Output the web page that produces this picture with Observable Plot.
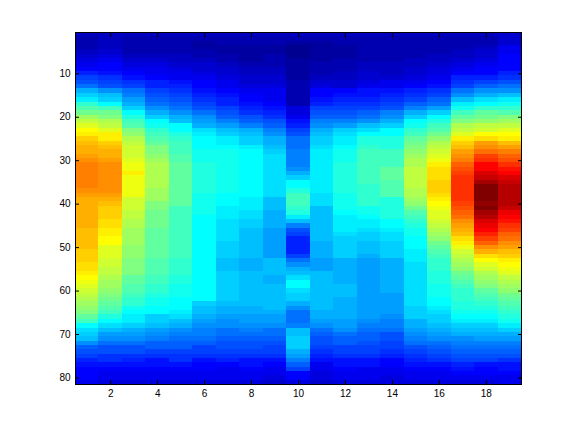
<!DOCTYPE html>
<html>
<head>
<meta charset="utf-8">
<style>html,body{margin:0;padding:0;background:#fff}svg{display:block}</style>
<script src="https://cdn.jsdelivr.net/npm/d3@7"></script>
<script src="https://cdn.jsdelivr.net/npm/@observablehq/plot@0.6"></script>
</head>
<body>
<script>
const xTicks = [2,4,6,8,10,12,14,16,18];
const yTicks = [10,20,30,40,50,60,70,80];
const col1 = [4,3,3,3,4,5,6,7,8,10, 12,13,15,19,21,23,27,29,31,34, 36,38,40,41,43,44,45,45,46,47, 48,48,48,48,48,48,47,46,45,45, 45,45,45,45,45,44,44,44,44,44, 43,43,43,42,42,41,40,39,38,37, 36,35,34,33,32,30,28,24,22,21, 20,17,14,13,12,10,9,8,8,8,7];
const col2 = [4,4,4,4,5,6,7,8,8,9, 11,12,13,17,20,21,24,28,31,32, 35,36,38,41,41,43,44,45,45,46, 47,47,47,47,47,47,47,46,45,44, 43,43,43,42,42,41,41,40,40,38, 38,38,37,37,36,36,35,34,34,33, 32,31,30,29,28,26,24,22,20,18, 17,15,13,13,11,11,9,8,7,7,6];
const col3 = [4,3,3,3,3,4,5,6,7,8, 9,11,12,15,16,18,19,21,24,26, 28,29,32,33,35,36,37,37,37,38, 39,39,41,39,39,39,39,39,37,37, 37,36,36,35,35,34,34,34,34,33, 33,33,32,32,32,32,30,30,29,29, 28,27,27,25,24,23,23,21,19,18, 17,15,13,13,11,10,9,8,7,7,6];
const col4 = [4,3,3,3,3,4,5,6,7,7, 8,10,10,12,13,14,15,17,19,21, 24,25,27,28,29,30,32,32,33,34, 35,35,35,35,35,35,34,34,34,32, 32,31,31,31,31,30,30,30,30,30, 30,30,29,29,29,29,28,28,27,27, 26,25,25,24,24,21,21,20,18,17, 16,14,14,12,11,9,9,8,7,7,6];
const col5 = [4,3,3,3,3,4,4,5,6,7, 7,9,10,11,12,13,14,15,17,19, 20,24,24,26,27,28,28,28,29,29, 30,30,30,30,30,30,30,30,30,30, 28,28,28,28,28,28,28,28,28,28, 28,28,27,27,27,27,26,26,25,25, 25,24,24,24,23,22,20,19,17,16, 15,14,14,12,11,11,9,8,7,7,6];
const col6 = [4,3,2,2,3,3,4,5,5,6, 7,8,8,9,10,11,12,13,15,17, 18,19,22,23,24,24,24,25,25,25, 26,26,26,26,26,26,26,25,25,25, 25,25,24,24,24,24,24,24,24,24, 24,24,24,24,24,24,24,24,24,24, 24,24,21,20,20,19,18,17,16,16, 15,14,12,12,11,9,8,8,7,7,6];
const col7 = [4,3,3,2,2,3,3,4,5,5, 6,7,7,8,9,10,10,12,13,14, 16,18,20,21,23,23,24,25,25,25, 25,25,25,25,25,25,25,24,24,24, 23,23,23,22,22,22,22,22,21,21, 21,21,20,20,20,21,21,21,21,21, 21,21,20,19,19,18,17,17,15,15, 14,13,13,12,11,10,8,7,7,7,6];
const col8 = [4,3,3,2,2,2,2,3,4,4, 5,5,6,7,8,8,9,10,11,13, 14,16,19,20,21,21,23,24,24,24, 24,24,24,24,24,24,24,24,23,23, 23,22,22,21,21,20,20,20,20,20, 20,20,19,19,19,20,20,20,20,20, 20,20,20,19,19,18,18,17,16,15, 14,13,13,12,11,9,9,8,7,7,6];
const col9 = [4,3,3,2,2,3,3,3,4,4, 5,5,6,7,7,7,8,9,10,11, 13,14,16,17,19,19,20,21,22,22, 22,22,22,22,22,22,22,22,20,20, 20,19,19,19,19,18,18,18,18,18, 18,18,20,20,20,20,19,19,20,20, 20,20,20,20,19,18,18,17,15,15, 14,13,12,12,11,9,8,7,7,6,5];
const col10 = [4,3,2,1,1,1,2,2,2,2, 2,3,3,3,3,3,3,6,6,7, 9,10,12,13,15,15,15,16,16,16, 16,17,19,21,24,24,26,28,28,28, 27,26,23,20,16,13,12,10,10,10, 10,12,15,17,19,20,22,24,24,22, 21,21,19,17,15,15,15,16,20,20, 21,21,21,19,18,16,14,12,8,8,6];
const col11 = [4,3,2,2,2,2,2,3,3,3, 4,5,6,8,8,9,10,12,13,14, 16,17,19,20,21,21,22,23,23,23, 23,23,23,23,23,23,23,22,22,22, 20,20,20,20,20,20,20,20,19,19, 19,19,18,18,18,20,20,20,20,20, 20,20,20,20,19,19,18,17,15,14, 13,13,12,11,10,9,7,7,6,6,5];
const col12 = [4,3,3,2,2,2,3,3,3,4, 4,5,5,8,9,10,11,12,13,14, 16,18,21,22,23,23,24,25,25,25, 26,26,26,26,26,26,26,25,25,25, 25,24,23,23,23,23,22,21,21,21, 21,21,19,19,19,19,19,19,20,20, 20,19,19,19,19,19,18,18,17,15, 14,14,12,12,11,9,9,8,7,7,6];
const col13 = [4,3,3,3,3,3,3,4,4,5, 5,6,7,9,9,10,11,12,14,15, 17,20,22,24,26,26,27,28,28,28, 28,28,28,28,28,27,27,27,27,27, 25,25,24,23,23,22,21,21,20,20, 20,19,18,18,18,18,18,18,18,18, 18,18,18,18,18,18,17,16,15,14, 14,13,12,12,11,9,9,7,7,7,6];
const col14 = [4,3,3,3,3,3,3,4,4,4, 5,7,7,9,10,11,12,13,16,17, 19,21,24,24,26,26,26,28,28,28, 28,30,30,30,29,29,29,29,26,26, 26,26,26,24,24,23,22,22,21,21, 21,21,19,19,19,19,19,19,19,19, 18,18,18,18,18,17,16,16,15,13, 13,12,12,11,10,8,8,7,7,6,6];
const col15 = [4,3,3,3,3,3,4,4,5,5, 6,7,8,10,11,12,14,16,19,21, 24,25,27,28,30,31,32,33,34,35, 35,36,36,36,36,36,35,35,34,33, 31,29,28,27,26,25,25,24,24,24, 23,23,23,22,22,22,22,22,22,22, 22,22,22,21,21,21,19,19,18,17, 16,15,13,12,11,10,9,8,7,7,6];
const col16 = [4,3,3,3,3,4,4,5,6,6, 7,8,9,11,12,14,15,18,21,24, 26,28,29,31,33,35,36,37,38,39, 41,42,42,42,43,43,43,42,41,40, 39,38,38,37,36,35,34,33,31,30, 29,28,27,27,27,26,26,26,25,25, 25,24,24,23,22,21,21,20,19,18, 17,15,14,13,12,11,9,8,7,7,6];
const col17 = [4,3,3,3,4,4,5,6,7,8, 10,11,12,15,17,20,23,25,28,30, 32,35,36,38,41,43,44,46,47,48, 50,51,52,53,53,53,53,53,53,52, 51,50,49,47,46,45,44,42,41,39, 37,36,35,34,33,31,30,29,28,27, 27,27,26,26,25,24,23,21,20,19, 17,16,15,14,13,12,10,9,8,7,6];
const col18 = [4,3,3,4,5,5,6,7,8,8, 10,12,14,17,19,22,24,27,30,31, 33,36,37,40,42,46,47,49,52,53, 56,56,58,59,61,63,63,63,63,62, 63,61,60,58,57,56,54,52,50,47, 45,42,40,38,37,35,34,33,32,30, 29,28,27,26,25,24,23,21,20,19, 18,16,15,14,13,12,9,8,8,7,6];
const col19 = [5,5,5,7,7,8,8,8,8,10, 11,13,15,17,20,23,25,27,29,32, 34,36,38,40,41,44,46,48,50,51, 53,55,56,58,59,60,60,60,60,60, 59,57,56,55,53,52,50,49,47,46, 44,43,41,40,39,38,36,35,34,33, 31,30,29,28,27,26,25,23,21,19, 18,16,15,14,13,11,9,9,8,7,7];
const columns = [col1,col2,col3,col4,col5,col6,col7,col8,col9,col10,col11,col12,col13,col14,col15,col16,col17,col18,col19];
const cells = columns.flatMap((vals, i) => vals.map((v, j) => ({col: i + 1, row: j + 1, v})));
const jetStops = [0,8,24,40,56,63];
const jetColors = ["#000080","#0000ff","#00ffff","#ffff00","#ff0000","#800000"];

const chart = Plot.plot({
  width: 576, height: 432,
  marginLeft: 75, marginRight: 55, marginTop: 32, marginBottom: 48,
  style: {fontFamily: "'Liberation Sans', Arial, sans-serif", fontSize: "10px", color: "#000", background: "#fff"},
  x: {type: "band", domain: d3.range(1, 20), padding: 0, align: 0, round: false, label: null},
  y: {type: "band", domain: d3.range(1, 82), padding: 0, align: 0, round: false, label: null},
  color: {type: "linear", domain: jetStops, range: jetColors, interpolate: "rgb"},
  marks: [
    Plot.cell(cells, {x: "col", y: "row", fill: "v", inset: 0, shapeRendering: "crispEdges"}),
    Plot.axisX({anchor: "bottom", ticks: xTicks, tickSize: -4, tickPadding: 9, label: null, stroke: "#000", fontSize: 10}),
    Plot.axisX({anchor: "top", ticks: xTicks, tickSize: -4, tickFormat: null, label: null, stroke: "#000"}),
    Plot.axisY({anchor: "left", ticks: yTicks, tickSize: -4, tickPadding: 9, label: null, stroke: "#000", fontSize: 10}),
    Plot.axisY({anchor: "right", ticks: yTicks, tickSize: -4, tickFormat: null, label: null, stroke: "#000"}),
    Plot.frame({stroke: "#000"})
  ]
});
document.body.appendChild(chart);
</script>
</body>
</html>
